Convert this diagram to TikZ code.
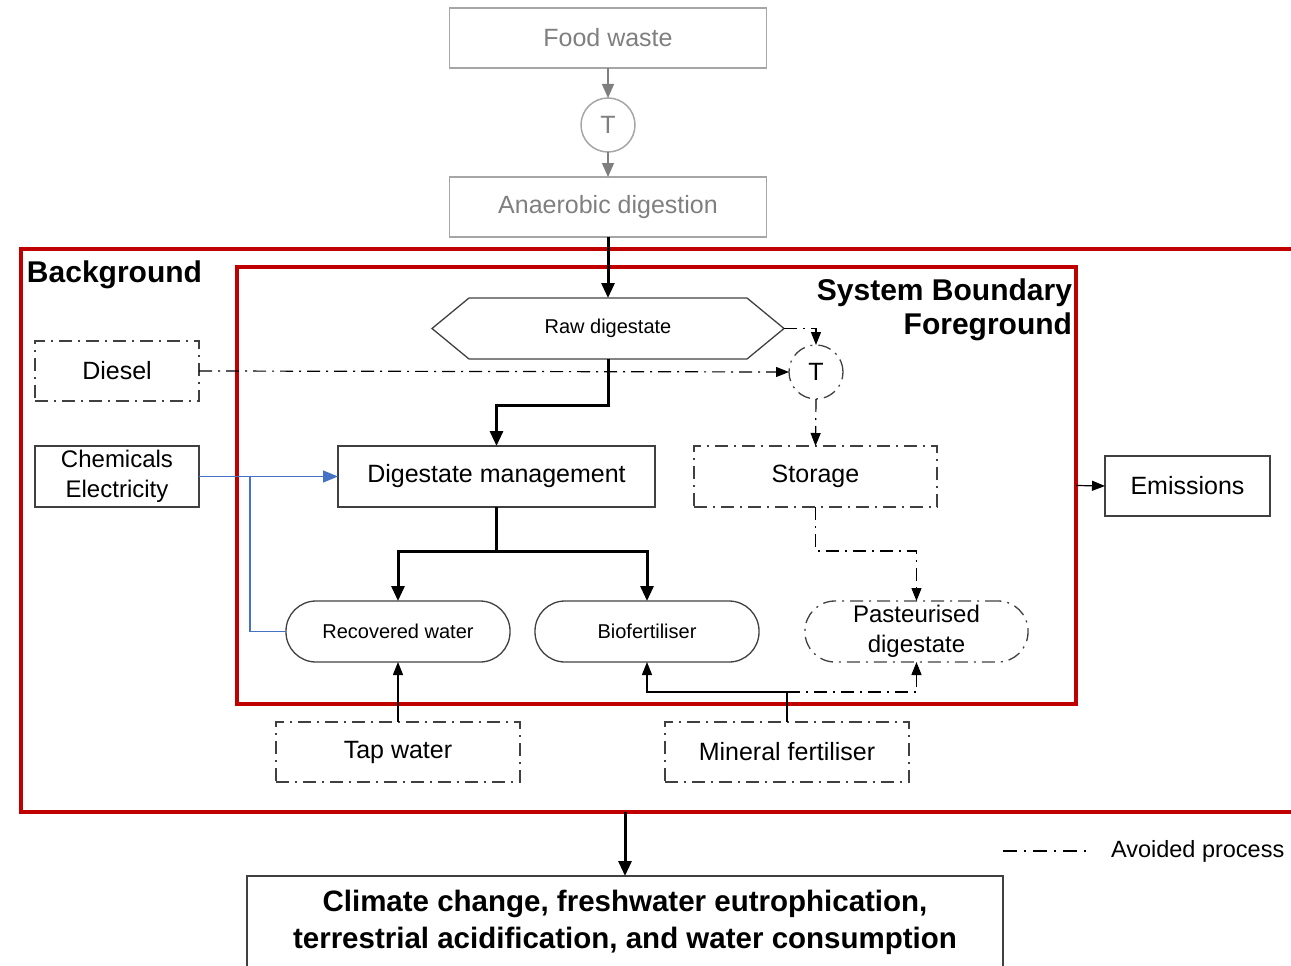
\documentclass[tikz,border=0pt]{standalone}
\usepackage{fontspec}
\setmainfont{Liberation Sans}
\usetikzlibrary{arrows.meta,calc}
\definecolor{dred}{HTML}{C00000}
\definecolor{gbord}{HTML}{A6A6A6}
\definecolor{gtext}{HTML}{7F7F7F}
\definecolor{lblue}{HTML}{4472C4}
\begin{document}
\begin{tikzpicture}[x=1pt,y=-1pt,
  every node/.style={inner sep=0pt, outer sep=0pt},
  fnorm/.style={font=\fontsize{25}{29}\selectfont},
  fsmall/.style={font=\fontsize{20}{24}\selectfont},
  fbold/.style={font=\fontsize{30}{34}\selectfont\bfseries},
  dd/.style={dash pattern=on 13pt off 6pt on 2pt off 6pt},
  greybox/.style={draw=gbord, line width=1.5pt, text=gtext, fnorm, minimum width=317pt, minimum height=60pt},
  solidbox/.style={draw=black!75, line width=1.3pt, fnorm, align=center},
  ddbox/.style={draw=black!75, line width=1.3pt, dd, fnorm, align=center},
  pill/.style={draw=black!75, line width=1.3pt, rounded corners=30pt, minimum width=224pt, minimum height=61pt, fsmall},
  thinarr/.style={line width=1.2pt, -{Triangle[length=13pt,width=10pt]}},
  thickarr/.style={line width=3pt, -{Triangle[length=15pt,width=13pt]}},
  greyarr/.style={draw=gtext, line width=1.3pt, -{Triangle[length=14pt,width=12pt]}},
  redbox/.style={draw=dred, line width=3.5pt}
]
\clip (0,0) rectangle (1291,966);
\useasboundingbox (0,0) rectangle (1291,966);

% red boundaries
\node[redbox, minimum width=1279pt, minimum height=563pt] (outer) at (660.5,530.5) {};
\node[redbox, minimum width=839pt, minimum height=437pt] (inner) at (656.5,485.5) {};
\node[fbold, anchor=base west] (bglab) at (27,282) {Background};
\node[fbold, anchor=base east] (sblab) at (1072,300) {System Boundary};
\node[fbold, anchor=base east] (fglab) at (1072,334) {Foreground};

% upstream grey
\node[greybox] (fw) at (608,38) {Food waste};
\node[circle, draw=gbord, line width=1.5pt, minimum size=54pt, text=gtext, fnorm] (t1) at (608,125) {T};
\node[greybox] (ad) at (608,207) {Anaerobic digestion};
\draw[greyarr] (fw.south) -- (t1.north);
\draw[greyarr] (t1.south) -- (ad.north);

% raw digestate hexagon
\node[minimum width=352pt, minimum height=61pt, fsmall] (rd) at (608,328.5) {Raw digestate};
\draw[black!75, line width=1.3pt] (rd.west) -- ([xshift=37pt]rd.north west) -- ([xshift=-37pt]rd.north east) -- (rd.east) -- ([xshift=-37pt]rd.south east) -- ([xshift=37pt]rd.south west) -- cycle;
\draw[thickarr] (ad.south) -- (rd.north);

% boxes
\node[ddbox, minimum width=164pt, minimum height=60pt] (diesel) at (117,371) {Diesel};
\node[solidbox, minimum width=164pt, minimum height=61pt, font=\fontsize{24}{30}\selectfont] (chem) at (117,476.5) {Chemicals\\Electricity};
\node[solidbox, minimum width=317pt, minimum height=61pt] (dm) at (496.5,476.5) {Digestate management};
\node[circle, draw=black!75, line width=1.3pt, dd, minimum size=54pt, fnorm] (t2) at (816,372) {T};
\node[ddbox, minimum width=243pt, minimum height=61pt] (stor) at (815.5,476.5) {Storage};
\node[ddbox, rounded corners=30pt, minimum width=223pt, minimum height=61pt, font=\fontsize{24}{30}\selectfont] (past) at (916.5,631.5) {Pasteurised\\digestate};
\node[pill] (rw) at (398,631.5) {Recovered water};
\node[pill] (bf) at (647,631.5) {Biofertiliser};
\node[ddbox, minimum width=244pt, minimum height=60pt] (tap) at (398,752) {Tap water};
\node[ddbox, minimum width=244pt, minimum height=60pt] (mf) at (787,752) {Mineral fertiliser};
\node[solidbox, minimum width=165pt, minimum height=60pt] (em) at (1187.5,486) {Emissions};
\node[solidbox, line width=1.5pt, minimum width=756pt, minimum height=92pt, font=\fontsize{29.5}{37}\selectfont\bfseries] (imp) at (625,922) {Climate change, freshwater eutrophication,\\terrestrial acidification, and water consumption};

% main thick flows
\draw[thickarr] (rd.south) -- ++(0,46) -| (dm.north);
\coordinate (dmj) at ($(dm.south)+(0,44)$);
\draw[line width=3pt] (dm.south) -- (dmj);
\draw[thickarr] (dmj) -| (rw.north);
\draw[thickarr] (dmj) -| (bf.north);

% avoided (dash-dot) flows
\draw[thinarr, dd] (diesel.east) -- (t2.west);
\draw[thinarr, dd] (rd.east) -| (t2.north);
\draw[thinarr, dd] (t2.south) -- (stor.north);
\draw[thinarr, dd] (stor.south) -- ++(0,44) -| (past.north);
\coordinate (mfj) at ($(mf.north)+(0,-30)$);
\draw[thinarr] (mf.north) -- (mfj) -| (bf.south);
\draw[thinarr, dd] (mfj) -| (past.south);
\draw[thinarr] (tap.north) -- (rw.south);

% blue inputs
\coordinate (bj) at ($(chem.east)+(51,0)$);
\draw[lblue, line width=1.3pt, -{Triangle[length=15pt,width=12pt]}] (chem.east) -- (dm.west);
\draw[lblue, line width=1.3pt] (bj) |- (rw.west);

% emissions and impacts
\draw[thinarr] (inner.east) -- (em.west);
\draw[thickarr] (outer.south -| imp.north) -- (imp.north);

% legend
\coordinate (lg1) at (1003,851);
\coordinate (lg2) at (1090,851);
\draw[line width=1.3pt, dash pattern=on 14pt off 7pt on 2pt off 7pt] (lg1) -- (lg2);
\node[anchor=west, font=\fontsize{23.5}{28}\selectfont] (lgt) at (1111,851) {Avoided process};
\end{tikzpicture}
\end{document}
